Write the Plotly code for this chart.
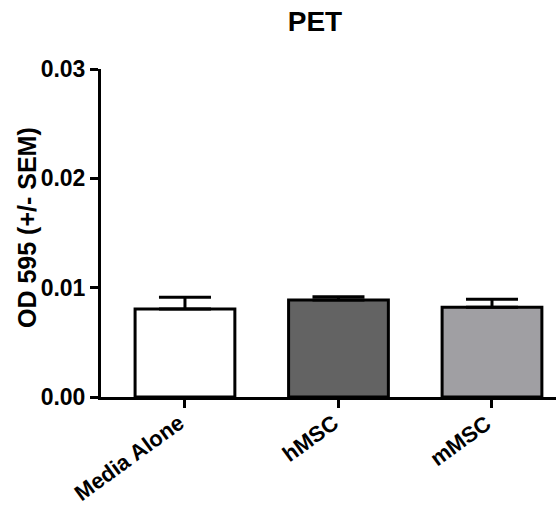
import plotly.graph_objects as go

categories = ["Media Alone", "hMSC", "mMSC"]
means = [0.00805, 0.00887, 0.00821]
sem = [0.00107, 0.00031, 0.00073]
colors = ["#ffffff", "#636363", "#a09fa3"]
y_ticks = [0.00, 0.01, 0.02, 0.03]

FONT = "Liberation Sans, Arial, sans-serif"

fig = go.Figure()
fig.add_trace(go.Bar(
    x=categories, y=means,
    marker=dict(color=colors, line=dict(color="black", width=3)),
    width=0.65,
    error_y=dict(type="data", array=sem, arrayminus=[0] * len(sem), symmetric=False,
                 color="black", thickness=3, width=26),
))

W, H = 558, 506
L, R, T, B = 101, 2, 69, 109

annotations = [dict(text="<b>OD 595 (+/- SEM)</b>", textangle=-90,
                    xref="paper", yref="paper",
                    x=(27 - L) / (W - L - R), y=(397 - 228) / (H - T - B),
                    xanchor="center", yanchor="middle", showarrow=False,
                    font=dict(size=25, family=FONT, color="black"))]
for c in categories:
    annotations.append(dict(text=f"<b>{c}</b>", textangle=-36, x=c, xref="x",
                            y=0, yref="paper", xanchor="right", yanchor="top",
                            xshift=7, yshift=-10, showarrow=False,
                            font=dict(size=22, family=FONT, color="black")))

fig.update_layout(
    width=W, height=H,
    margin=dict(l=L, r=R, t=T, b=B),
    paper_bgcolor="white", plot_bgcolor="white",
    showlegend=False,
    font=dict(family=FONT, color="black"),
    title=dict(text="<b>PET</b>", x=315 / W, xref="container", xanchor="center",
               y=1 - 21 / H, yref="container", yanchor="middle",
               font=dict(size=28, family=FONT, color="black")),
    xaxis=dict(range=[-0.547, 2.417], showline=True, linecolor="black", linewidth=3,
               ticks="outside", ticklen=8, tickwidth=3, tickcolor="black",
               showticklabels=False,
               showgrid=False, zeroline=False, fixedrange=True, automargin=False),
    yaxis=dict(range=[0, 0.03], tickvals=y_ticks, tickformat=".2f",
               showline=True, linecolor="black", linewidth=3,
               ticks="outside", ticklen=8, tickwidth=3, tickcolor="black",
               tickfont=dict(size=23, family=FONT, color="black", weight="bold"),
               showgrid=False, zeroline=False, fixedrange=True, automargin=False),
    annotations=annotations,
)

fig.write_html("out.html")
